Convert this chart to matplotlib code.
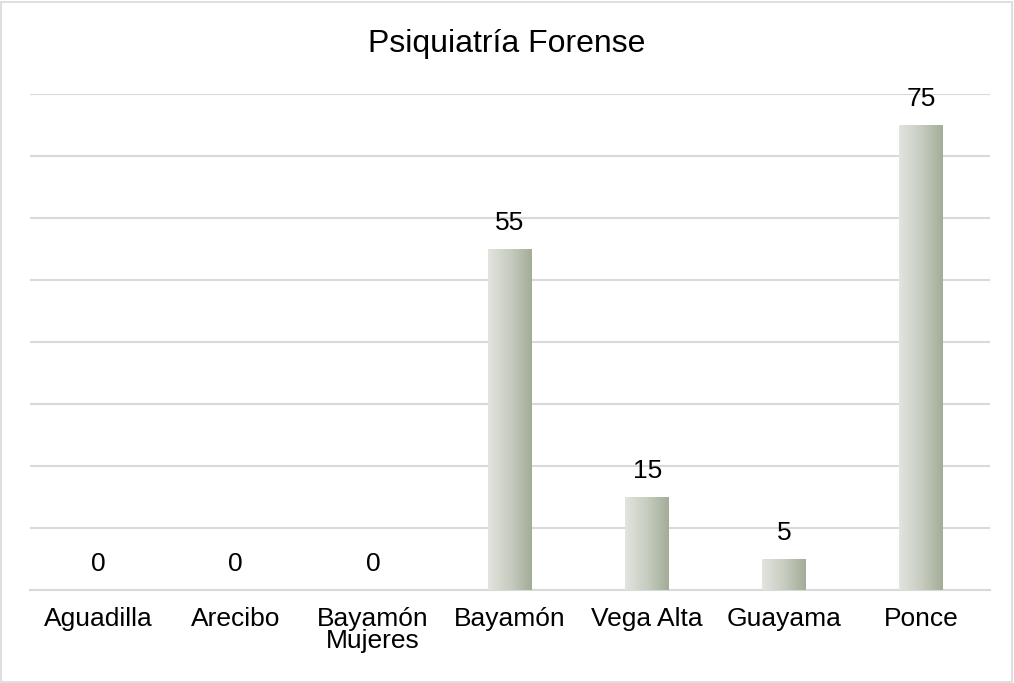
import matplotlib
matplotlib.use("Agg")
import matplotlib.pyplot as plt
import numpy as np
from matplotlib.colors import LinearSegmentedColormap
from matplotlib.patches import Rectangle

plt.rcParams['font.family'] = ['Liberation Sans', 'DejaVu Sans']

categories = ["Aguadilla", "Arecibo", "Bayamón\nMujeres", "Bayamón", "Vega Alta", "Guayama", "Ponce"]
values = [0, 0, 0, 55, 15, 5, 75]
title = "Psiquiatría Forense"

W, H = 1014, 683
fig = plt.figure(figsize=(W/100, H/100), dpi=100)
ax = fig.add_axes([30/W, 1-590/H, 960/W, (590-94)/H])

x = np.arange(len(categories))
bars = ax.bar(x, values, width=0.32, color='none', edgecolor='none', zorder=3)
cmap = LinearSegmentedColormap.from_list("g", ["#e2e4df", "#c7cdc0", "#a2ad97"])
grad = np.linspace(0, 1, 256).reshape(1, -1)
for b in bars:
    h = b.get_height()
    if h > 0:
        ax.imshow(grad, cmap=cmap, aspect='auto', extent=[b.get_x(), b.get_x()+b.get_width(), 0, h],
                  zorder=3, interpolation='bilinear')
for xi, v in zip(x, values):
    ax.annotate(str(v), (xi, v), xytext=(0, 13.5), textcoords='offset points', ha='center', va='baseline',
                fontsize=19, color='#000000')

ax.set_xlim(-0.5, len(categories)-0.5)
ax.set_ylim(0, 80)
ax.set_yticks(np.arange(0, 81, 10))
ax.yaxis.grid(True, color='#d9d9d9', linewidth=1.5, zorder=0)
ax.set_axisbelow(True)
ax.tick_params(axis='y', left=False, labelleft=False)
ax.set_xticks(x)
ax.set_xticklabels(categories, fontsize=19, linespacing=0.9)
ax.tick_params(axis='x', length=0, pad=12)
for s in ['top', 'right', 'left']:
    ax.spines[s].set_visible(False)
ax.spines['bottom'].set_color('#d9d9d9')
ax.spines['bottom'].set_linewidth(1.5)

fig.text(0.5, 1-44/H, title, ha='center', va='center', fontsize=23)
fig.patches.append(Rectangle((1/W, 1/H), 1-3/W, 1-3/H, transform=fig.transFigure, fill=False,
                             edgecolor='#d9d9d9', linewidth=1.2))
fig.savefig("out.png", dpi=100)
